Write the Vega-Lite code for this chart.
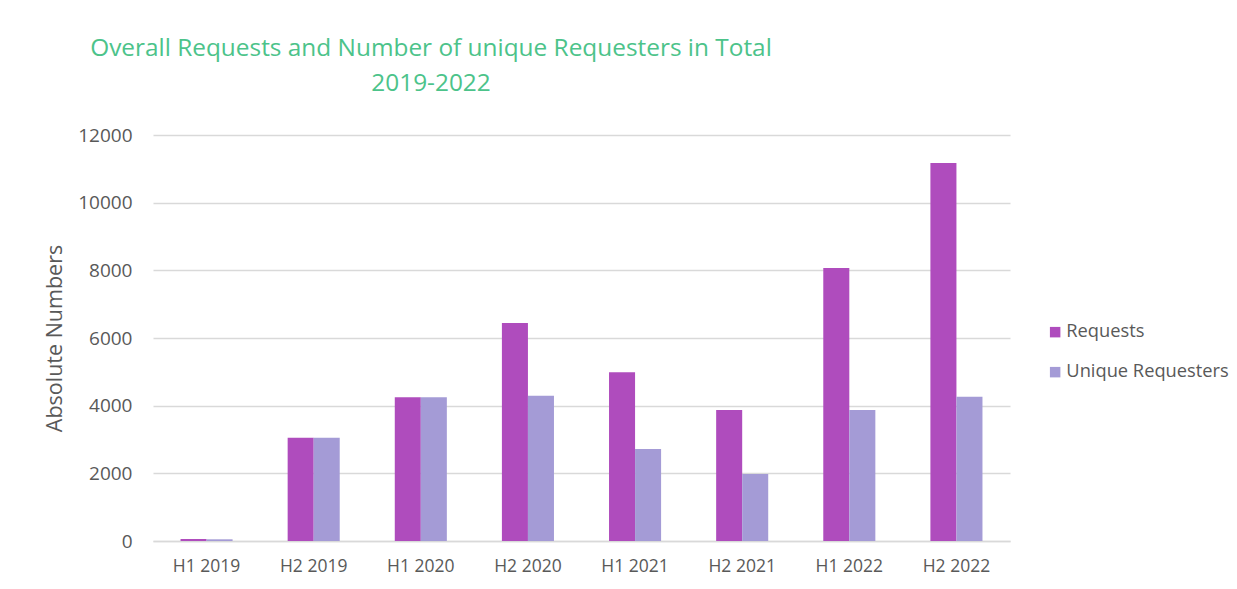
{
  "$schema": "https://vega.github.io/schema/vega-lite/v6.json",
  "width": 857,
  "height": 406,
  "autosize": "none",
  "padding": {"left": 153, "top": 135, "right": 227, "bottom": 48},
  "background": "white",
  "title": {
    "text": ["Overall Requests and Number of unique Requesters in Total", "2019-2022"],
    "anchor": "start",
    "frame": "group",
    "align": "center",
    "dx": 278,
    "font": "Open Sans",
    "fontSize": 24.4,
    "fontWeight": "normal",
    "color": "#4CC38A",
    "lineHeight": 35,
    "offset": 30
  },
  "data": {
    "values": [
      {"period": "H1 2019", "series": "Requests", "value": 60},
      {"period": "H1 2019", "series": "Unique Requesters", "value": 50},
      {"period": "H2 2019", "series": "Requests", "value": 3050},
      {"period": "H2 2019", "series": "Unique Requesters", "value": 3050},
      {"period": "H1 2020", "series": "Requests", "value": 4250},
      {"period": "H1 2020", "series": "Unique Requesters", "value": 4250},
      {"period": "H2 2020", "series": "Requests", "value": 6440},
      {"period": "H2 2020", "series": "Unique Requesters", "value": 4290},
      {"period": "H1 2021", "series": "Requests", "value": 4990},
      {"period": "H1 2021", "series": "Unique Requesters", "value": 2720},
      {"period": "H2 2021", "series": "Requests", "value": 3870},
      {"period": "H2 2021", "series": "Unique Requesters", "value": 1980},
      {"period": "H1 2022", "series": "Requests", "value": 8070},
      {"period": "H1 2022", "series": "Unique Requesters", "value": 3870},
      {"period": "H2 2022", "series": "Requests", "value": 11170},
      {"period": "H2 2022", "series": "Unique Requesters", "value": 4260}
    ]
  },
  "mark": {"type": "bar"},
  "encoding": {
    "x": {
      "field": "period",
      "type": "nominal",
      "sort": null,
      "scale": {"paddingInner": 0.514, "paddingOuter": 0.257},
      "axis": {
        "title": null,
        "labelAngle": 0,
        "labelFont": "Open Sans",
        "labelFontSize": 17.5,
        "labelColor": "#595959",
        "labelPadding": 16,
        "ticks": false,
        "domainColor": "#d9d9d9",
        "domainWidth": 1.5
      }
    },
    "xOffset": {"field": "series", "type": "nominal", "sort": ["Requests", "Unique Requesters"], "scale": {"paddingInner": 0, "paddingOuter": 0}},
    "y": {
      "field": "value",
      "type": "quantitative",
      "scale": {"domain": [0, 12000]},
      "axis": {
        "values": [0, 2000, 4000, 6000, 8000, 10000, 12000],
        "format": "d",
        "title": "Absolute Numbers",
        "titleFont": "Open Sans",
        "titleFontSize": 21.5,
        "titleFontWeight": "normal",
        "titleColor": "#595959",
        "titlePadding": 11,
        "labelFont": "Open Sans",
        "labelFontSize": 19,
        "labelColor": "#595959",
        "labelPadding": 21,
        "ticks": false,
        "domain": false,
        "gridColor": "#d9d9d9",
        "gridWidth": 1.5
      }
    },
    "color": {
      "field": "series",
      "type": "nominal",
      "sort": ["Requests", "Unique Requesters"],
      "scale": {"domain": ["Requests", "Unique Requesters"], "range": ["#AF4CBD", "#A49BD6"]},
      "legend": {
        "title": null,
        "orient": "none",
        "legendX": 893,
        "legendY": 188,
        "symbolType": "square",
        "symbolSize": 110,
        "symbolStrokeWidth": 0,
        "labelFont": "Open Sans",
        "labelFontSize": 18.3,
        "labelLimit": 400,
        "labelColor": "#595959",
        "labelOffset": 2,
        "rowPadding": 21
      }
    }
  },
  "config": {"view": {"stroke": null}}
}
